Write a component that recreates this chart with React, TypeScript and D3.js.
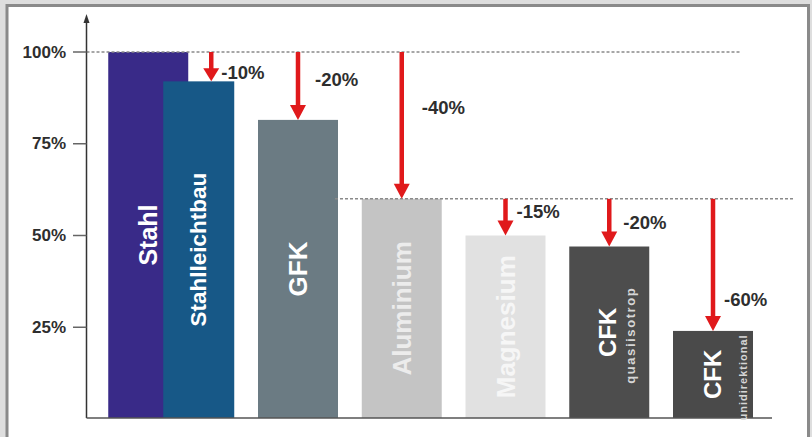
import React from "react";
import * as d3 from "d3";

// ---- data ----
const groups = ["Stahl", "GFK", "Aluminium", "Magnesium", "CFK quasiisotrop", "CFK unidirektional"];
const barNames = ["Stahl", "Stahlleichtbau", "GFK", "Aluminium", "Magnesium", "CFK", "CFK"];
const barSubtitles = ["", "", "", "", "", "quasiisotrop", "unidirektional"];
const barGroup = [0, 0, 1, 2, 3, 4, 5];
const barValues = [100, 92, 81.5, 60, 50, 47, 24];
const changeLabels = ["", "-10%", "-20%", "-40%", "-15%", "-20%", "-60%"];
const changeFrom = [null, 100, 100, 100, 60, 60, 60];
const changeLabelAt = [null, 94.5, 92.5, 85, 56.5, 53.5, 32.5];
const referenceLevels = [100, 60];
const yTickValues = [25, 50, 75, 100];
const yTickLabels = ["25%", "50%", "75%", "100%"];

// ---- styles / layout ----
const barColors = ["#392a88", "#175887", "#6b7b83", "#c4c4c4", "#e1e1e1", "#4d4d4d", "#4a4a4a"];
const labelColors = ["#ffffff", "#ffffff", "#ffffff", "#ececec", "#f6f6f6", "#ffffff", "#ffffff"];
const labelSizes = [25, 22.5, 26, 26, 26, 24, 24];
const subSizes = [0, 0, 0, 0, 0, 13, 11];
const subSpacing = [0, 0, 0, 0, 0, 1.6, 1];
const mainDx = [0, 0, 0, 0, 0, -2, -1];
const subDx = [0, 0, 0, 0, 0, 21, 30];
const changeDx = [0, 10, 17, 20, 11, 14, 11];
const RED = "#e0191b";
const FONT = "'Liberation Sans', Arial, Helvetica, sans-serif";

export default function App() {
  const W = 812, H = 437;
  const y = d3.scaleLinear().domain([0, 100]).range([419, 52]);
  const x = d3.scaleBand<string>().domain(groups).range([154.25, 753]).paddingInner(0.229).paddingOuter(0);
  const bw = x.bandwidth();
  const axisX = 86.5;
  const baseY = 418;

  // first group holds two overlapping bars
  const barX0 = (i: number) => {
    const gx = x(groups[barGroup[i]]) as number;
    if (i === 0) return gx - 46;
    if (i === 1) return gx + 9;
    return gx;
  };
  const barW = (i: number) => (i === 1 ? bw - 9 : bw);
  const barCenter = (i: number) => barX0(i) + barW(i) / 2;
  const arrowX = (i: number) => (i === 1 ? (barX0(0) + bw + barX0(1) + barW(1)) / 2 : barCenter(i));

  const refExtent = (lvl: number): [number, number] =>
    lvl === 100 ? [axisX, 740] : [barX0(2) + bw - 3, 793];

  return (
    <svg width={W} height={H} style={{ position: "fixed", left: 0, top: 0 }} fontFamily={FONT}>
      <rect x={0} y={0} width={W} height={H} fill="#dedede" />
      <rect x={7} y={5.5} width={801.5} height={H + 10} fill="#ffffff" stroke="#8a8a8a" strokeWidth={3} />

      {/* bars */}
      {barValues.map((v, i) => (
        <rect key={"b" + i} x={barX0(i)} y={y(v)} width={barW(i)} height={baseY - y(v)} fill={barColors[i]} />
      ))}

      {/* reference dashed lines */}
      {referenceLevels.map((lvl) => {
        const [a, b] = refExtent(lvl);
        return (
          <line key={"r" + lvl} x1={a} x2={b} y1={y(lvl)} y2={y(lvl)} stroke="#8a8a8a" strokeWidth={1.5} strokeDasharray="3,2" />
        );
      })}

      {/* axes */}
      <line x1={axisX} x2={axisX} y1={baseY} y2={22} stroke="#333" strokeWidth={1.5} />
      <path d={`M${axisX},14 L${axisX - 3},23 L${axisX + 3},23 Z`} fill="#333" />
      <line x1={axisX} x2={772} y1={baseY} y2={baseY} stroke="#555" strokeWidth={1.5} />
      {yTickValues.map((t, i) => (
        <g key={"t" + t}>
          <line x1={73} x2={axisX} y1={y(t)} y2={y(t)} stroke="#666" strokeWidth={1.5} />
          <text x={66} y={y(t)} textAnchor="end" dominantBaseline="central" fontSize={17} fontWeight="bold" fill="#2e2e2e">
            {yTickLabels[i]}
          </text>
        </g>
      ))}

      {/* bar labels */}
      {barNames.map((name, i) => {
        const cy = (y(barValues[i]) + baseY) / 2;
        const cx = barCenter(i) + mainDx[i];
        return (
          <g key={"l" + i}>
            <text
              transform={`translate(${cx},${cy}) rotate(-90)`}
              textAnchor="middle"
              dominantBaseline="central"
              fontSize={labelSizes[i]}
              fontWeight="bold"
              fill={labelColors[i]}
            >
              {name}
            </text>
            {barSubtitles[i] && (
              <text
                transform={`translate(${barCenter(i) + subDx[i]},${cy + 3}) rotate(-90)`}
                textAnchor="middle"
                dominantBaseline="central"
                fontSize={subSizes[i]}
                fontWeight="bold"
                letterSpacing={subSpacing[i]}
                fill="#d6d6d6"
              >
                {barSubtitles[i]}
              </text>
            )}
          </g>
        );
      })}

      {/* change arrows */}
      {changeLabels.map((lab, i) => {
        if (!lab || changeFrom[i] == null) return null;
        const ax = arrowX(i);
        const y0 = y(changeFrom[i] as number);
        const y1 = y(barValues[i]);
        const hh = Math.min(15, (y1 - y0) * 0.45);
        return (
          <g key={"a" + i}>
            <line x1={ax} x2={ax} y1={y0} y2={y1 - hh + 1} stroke={RED} strokeWidth={4.5} />
            <path d={`M${ax - 8},${y1 - hh} L${ax + 8},${y1 - hh} L${ax},${y1} Z`} fill={RED} />
            <text
              x={ax + changeDx[i]}
              y={y(changeLabelAt[i] as number)}
              dominantBaseline="central"
              fontSize={18.5}
              fontWeight="bold"
              fill="#2e2e2e"
            >
              {lab}
            </text>
          </g>
        );
      })}
    </svg>
  );
}
